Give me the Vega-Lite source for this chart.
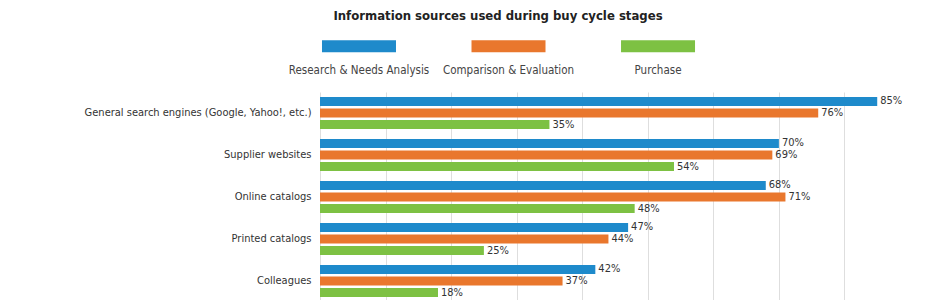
{
  "$schema": "https://vega.github.io/schema/vega-lite/v6.json",
  "padding": {"top": 10, "left": 0, "right": 0, "bottom": 0},
  "background": "white",
  "spacing": 3,
  "config": {
    "view": {"stroke": null},
    "font": "Liberation Sans Narrow, DejaVu Sans Condensed, sans-serif"
  },
  "datasets": {
    "series": [
      {"series": "Research & Needs Analysis"},
      {"series": "Comparison & Evaluation"},
      {"series": "Purchase"}
    ],
    "bars": [
      {"category": "General search engines (Google, Yahoo!, etc.)", "series": "Research & Needs Analysis", "value": 0.85},
      {"category": "General search engines (Google, Yahoo!, etc.)", "series": "Comparison & Evaluation", "value": 0.76},
      {"category": "General search engines (Google, Yahoo!, etc.)", "series": "Purchase", "value": 0.35},
      {"category": "Supplier websites", "series": "Research & Needs Analysis", "value": 0.70},
      {"category": "Supplier websites", "series": "Comparison & Evaluation", "value": 0.69},
      {"category": "Supplier websites", "series": "Purchase", "value": 0.54},
      {"category": "Online catalogs", "series": "Research & Needs Analysis", "value": 0.68},
      {"category": "Online catalogs", "series": "Comparison & Evaluation", "value": 0.71},
      {"category": "Online catalogs", "series": "Purchase", "value": 0.48},
      {"category": "Printed catalogs", "series": "Research & Needs Analysis", "value": 0.47},
      {"category": "Printed catalogs", "series": "Comparison & Evaluation", "value": 0.44},
      {"category": "Printed catalogs", "series": "Purchase", "value": 0.25},
      {"category": "Colleagues", "series": "Research & Needs Analysis", "value": 0.42},
      {"category": "Colleagues", "series": "Comparison & Evaluation", "value": 0.37},
      {"category": "Colleagues", "series": "Purchase", "value": 0.18}
    ]
  },
  "vconcat": [
    {
      "width": 590,
      "height": 61,
      "title": {
        "text": "Information sources used during buy cycle stages",
        "fontSize": 13,
        "fontWeight": "bold",
        "color": "#222",
        "anchor": "middle",
        "dx": -117,
        "offset": 5
      },
      "data": {"name": "series"},
      "layer": [
        {
          "mark": {"type": "tick", "orient": "horizontal", "size": 74, "thickness": 12, "opacity": 1},
          "encoding": {
            "x": {
              "field": "series", "type": "nominal",
              "scale": {"type": "point", "domain": ["Research & Needs Analysis", "Comparison & Evaluation", "Purchase"], "padding": 0.973, "align": 0.134},
              "axis": null
            },
            "y": {"datum": "s", "type": "nominal", "scale": {"type": "point", "domain": ["s", "l"], "padding": 0.75}, "axis": null},
            "color": {
              "field": "series", "type": "nominal",
              "scale": {"domain": ["Research & Needs Analysis", "Comparison & Evaluation", "Purchase"], "range": ["#1e8acb", "#e9772d", "#7dc143"]},
              "legend": null
            }
          }
        },
        {
          "mark": {"type": "text", "fontSize": 11.5, "color": "#444", "align": "center", "baseline": "middle"},
          "encoding": {
            "x": {
              "field": "series", "type": "nominal",
              "scale": {"type": "point", "domain": ["Research & Needs Analysis", "Comparison & Evaluation", "Purchase"], "padding": 0.973, "align": 0.134},
              "axis": null
            },
            "y": {"datum": "l", "type": "nominal", "scale": {"type": "point", "domain": ["s", "l"], "padding": 0.75}, "axis": null},
            "text": {"field": "series", "type": "nominal"}
          }
        }
      ]
    },
    {
      "width": 590,
      "height": 210,
      "data": {"name": "bars"},
      "encoding": {
        "y": {
          "field": "category", "type": "nominal",
          "sort": ["General search engines (Google, Yahoo!, etc.)", "Supplier websites", "Online catalogs", "Printed catalogs", "Colleagues"],
          "scale": {"paddingInner": 0.14, "paddingOuter": 0.07},
          "axis": {"title": null, "labelFontSize": 11, "labelColor": "#333", "ticks": false, "domain": false, "labelPadding": 9, "minExtent": 320, "labelLimit": 400}
        },
        "yOffset": {
          "field": "series", "type": "nominal",
          "sort": ["Research & Needs Analysis", "Comparison & Evaluation", "Purchase"],
          "scale": {"paddingInner": 0.22, "paddingOuter": 0.18}
        },
        "x": {
          "field": "value", "type": "quantitative",
          "scale": {"domain": [0, 0.9], "nice": false},
          "axis": {"title": null, "labels": false, "ticks": false, "domain": false, "grid": true, "gridColor": "#dedede", "values": [0, 0.1, 0.2, 0.3, 0.4, 0.5, 0.6, 0.7, 0.8, 0.9]}
        }
      },
      "layer": [
        {
          "mark": {"type": "bar"},
          "encoding": {
            "color": {
              "field": "series", "type": "nominal",
              "scale": {"domain": ["Research & Needs Analysis", "Comparison & Evaluation", "Purchase"], "range": ["#1e8acb", "#e9772d", "#7dc143"]},
              "legend": null
            }
          }
        },
        {
          "mark": {"type": "text", "align": "left", "baseline": "middle", "dx": 3, "fontSize": 11, "color": "#333"},
          "encoding": {
            "text": {"field": "value", "type": "quantitative", "format": ".0%"}
          }
        }
      ]
    }
  ]
}
